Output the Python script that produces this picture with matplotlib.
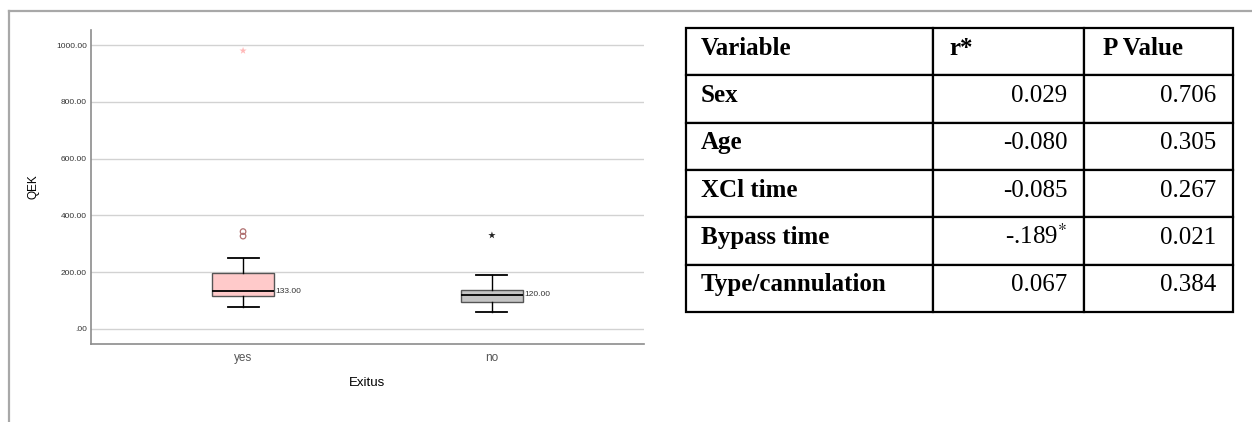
import matplotlib.pyplot as plt
import matplotlib.transforms as mtransforms
from matplotlib.lines import Line2D
from matplotlib.ticker import FuncFormatter

# box plot data (QEK by Exitus)
groups = ["yes", "no"]
q1 = [117, 95]
medians = [133, 120]
q3 = [198, 138]
whis_lo = [79, 58]
whis_hi = [251, 189]
box_colors = ["#ffcaca", "#c4c4c4"]
# mild outliers (circles) and extreme outliers (stars)
mild_x = [1, 1]
mild_y = [343, 327]
extreme_x = [1, 2]
extreme_y = [980, 330]
extreme_colors = ["#ffb8b8", "#222222"]

# correlation table
tab_header = ["Variable", "r*", "P Value"]
variables = ["Sex", "Age", "XCl time", "Bypass time", "Type/cannulation"]
r_values = ["0.029", "-0.080", "-0.085", "-.189$^{*}$", "0.067"]
p_values = ["0.706", "0.305", "0.267", "0.021", "0.384"]

plt.rcParams['font.family'] = ['Liberation Sans', 'DejaVu Sans']
plt.rcParams['mathtext.fontset'] = 'stix'

fig = plt.figure(figsize=(12.52, 4.22), dpi=100)

# grey frame (top and left)
fig.add_artist(Line2D([9/1252, 1], [1 - 11/422, 1 - 11/422], color='#a8a8a8', lw=1.6, transform=fig.transFigure))
fig.add_artist(Line2D([9/1252, 9/1252], [0, 1 - 11/422], color='#a8a8a8', lw=1.6, transform=fig.transFigure))

ax = fig.add_axes([91/1252, 78/422, 553/1252, 314/422])

stats = []
for i in range(len(groups)):
    stats.append(dict(label=groups[i], q1=q1[i], med=medians[i], q3=q3[i],
                      whislo=whis_lo[i], whishi=whis_hi[i], fliers=[]))

bp = ax.bxp(stats, positions=[1, 2], widths=0.25, patch_artist=True, showfliers=False,
            boxprops=dict(edgecolor='#555555', linewidth=1.0),
            medianprops=dict(color='black', linewidth=1.3),
            whiskerprops=dict(color='black', linewidth=1.0),
            capprops=dict(color='black', linewidth=1.3),
            capwidths=0.125)
for patch, c in zip(bp['boxes'], box_colors):
    patch.set_facecolor(c)

ax.scatter(mild_x, mild_y, s=16, facecolors='none', edgecolors='#b07070', linewidths=0.9, zorder=3)
ax.scatter(extreme_x, extreme_y, s=30, marker='*', c=extreme_colors, linewidths=0, zorder=3)

for i in range(len(groups)):
    ax.text(i + 1 + 0.125 + 0.005, medians[i], f"{medians[i]:.2f}", fontsize=6,
            color='#333333', va='center', ha='left')

ax.set_xlim(0.389, 2.611)
ax.set_ylim(-53, 1053)
ax.set_yticks([0, 200, 400, 600, 800, 1000])
ax.yaxis.set_major_formatter(FuncFormatter(lambda v, p: f"{v:.2f}".lstrip('0') if v == 0 else f"{v:.2f}"))
ax.grid(axis='y', color='#d2d2d2', linewidth=1.0)
ax.set_axisbelow(True)
ax.tick_params(length=0)
ax.tick_params(axis='y', labelsize=6, labelcolor='#333333', pad=3)
ax.tick_params(axis='x', labelsize=8.5, labelcolor='#555555', pad=6)
for s in ['top', 'right']:
    ax.spines[s].set_visible(False)
for s in ['left', 'bottom']:
    ax.spines[s].set_color('#8c8c8c')
    ax.spines[s].set_linewidth(1.2)
ax.set_ylabel("QEK", fontsize=8.5, labelpad=12)
ax.set_xlabel("Exitus", fontsize=9.5, labelpad=9)

# table
tax = fig.add_axes([686/1252, 110/422, 547/1252, 284/422])
tax.axis('off')
cells = [[variables[i], r_values[i], p_values[i]] for i in range(len(variables))]
tbl = tax.table(cellText=cells, colLabels=tab_header, bbox=[0, 0, 1, 1],
                colWidths=[247, 151, 149], cellLoc='right')
tbl.auto_set_font_size(False)
shift = mtransforms.Affine2D().translate(0, -3)
for (r, c), cell in tbl.get_celld().items():
    cell.set_linewidth(1.6)
    cell.set_edgecolor('black')
    t = cell.get_text()
    t.set_fontsize(18)
    t.set_family(['Liberation Serif', 'DejaVu Serif'])
    t.set_va('baseline')
    t.set_transform(shift)
    if r == 0 or c == 0:
        t.set_fontweight('bold')
        cell._loc = 'left'
        t.set_ha('left')
    if c == 0:
        cell.PAD = 0.06
    elif r == 0 and c == 2:
        cell.PAD = 0.13
    else:
        cell.PAD = 0.11

fig.savefig("out.png", dpi=100)
